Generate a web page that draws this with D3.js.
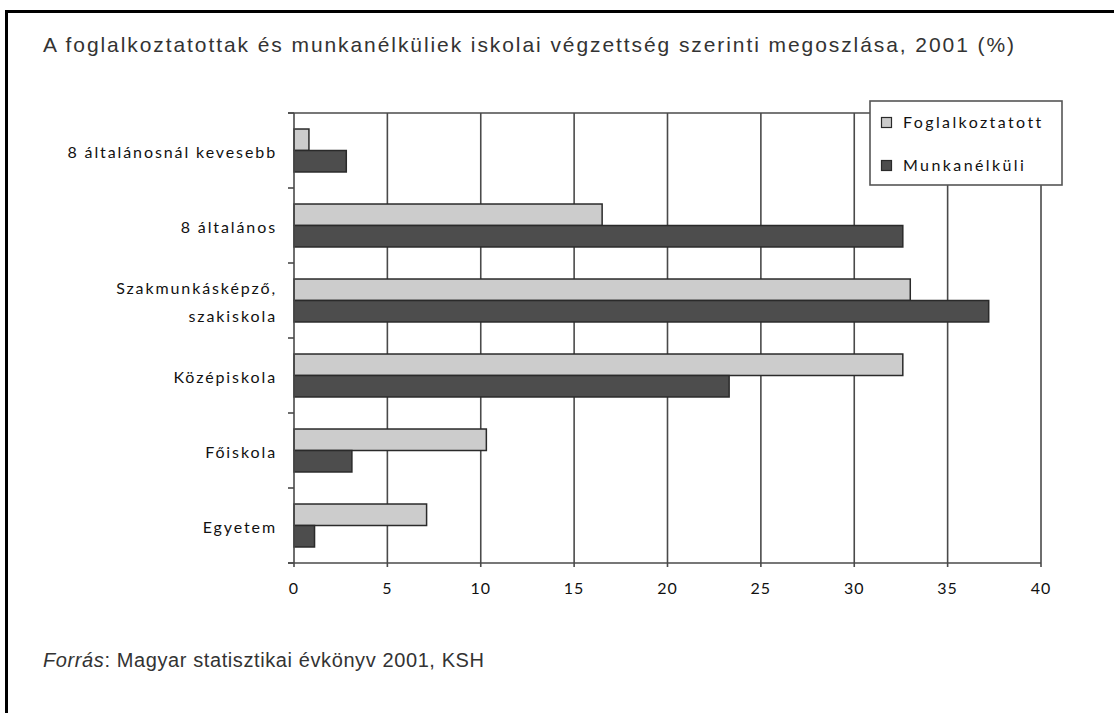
<!DOCTYPE html>
<html>
<head>
<meta charset="utf-8">
<script src="https://cdn.jsdelivr.net/npm/d3@7"></script>
<style>
  body { margin: 0; background: #fff; }
  svg { display: block; }
</style>
</head>
<body>
<script>
// chart data
var categories = ['8 általánosnál kevesebb', '8 általános', 'Szakmunkásképző, szakiskola', 'Középiskola', 'Főiskola', 'Egyetem'];
var categoryLines = [['8 általánosnál kevesebb'], ['8 általános'], ['Szakmunkásképző,', 'szakiskola'], ['Középiskola'], ['Főiskola'], ['Egyetem']];
var seriesNames = ['Foglalkoztatott', 'Munkanélküli'];
var employed = [0.8, 16.5, 33.0, 32.6, 10.3, 7.1];
var unemployed = [2.8, 32.6, 37.2, 23.3, 3.1, 1.1];
var xTicks = [0, 5, 10, 15, 20, 25, 30, 35, 40];

var titleText = 'A foglalkoztatottak és munkanélküliek iskolai végzettség szerinti megoszlása, 2001 (%)';

var width = 1114,
    height = 713;

var svg = d3.select('body')
  .append('svg')
  .attr('width', width)
  .attr('height', height);

// outer frame (clipped by the window on right and bottom)
svg.append('rect')
  .attr('x', 6.5).attr('y', 11.5)
  .attr('width', 1200).attr('height', 800)
  .attr('fill', 'none')
  .attr('stroke', '#000')
  .attr('stroke-width', 3);

// title
svg.append('text')
  .attr('x', 43).attr('y', 52)
  .attr('font-family', 'Liberation Sans, Arial, sans-serif')
  .attr('font-size', 21)
  .attr('fill', '#333')
  .attr('textLength', 971)
  .attr('lengthAdjust', 'spacing')
  .text(titleText);

// plot area
var plotLeft = 294, plotRight = 1041, plotTop = 113, plotBottom = 563;

var x = d3.scaleLinear().domain([0, 40]).range([plotLeft, plotRight]);

var y = d3.scaleBand()
  .domain(categories)
  .range([plotTop, plotBottom])
  .paddingInner(0.427)
  .paddingOuter(0.2135);

var ySub = d3.scaleBand()
  .domain(seriesNames)
  .range([0, y.bandwidth()]);

var g = svg.append('g');

// vertical gridlines (run a little past the axis as ticks)
g.selectAll('.grid')
  .data(xTicks.slice(1))
  .enter().append('line')
  .attr('x1', function(d) { return x(d); })
  .attr('x2', function(d) { return x(d); })
  .attr('y1', plotTop)
  .attr('y2', plotBottom + 4)
  .attr('stroke', '#4a4a4a')
  .attr('stroke-width', 1.6);

// top border of plot
g.append('line')
  .attr('x1', plotLeft - 6).attr('x2', plotRight)
  .attr('y1', plotTop).attr('y2', plotTop)
  .attr('stroke', '#4a4a4a').attr('stroke-width', 1.6);

// bars
var rows = categories.map(function(c, i) {
  return [
    { cat: c, series: seriesNames[0], value: employed[i] },
    { cat: c, series: seriesNames[1], value: unemployed[i] }
  ];
});
var fills = { 'Foglalkoztatott': '#cccccc', 'Munkanélküli': '#4d4d4d' };

g.selectAll('.row')
  .data(rows)
  .enter().append('g')
  .attr('transform', function(d) { return 'translate(0,' + y(d[0].cat) + ')'; })
  .selectAll('rect')
  .data(function(d) { return d; })
  .enter().append('rect')
  .attr('x', x(0))
  .attr('y', function(d) { return ySub(d.series); })
  .attr('width', function(d) { return x(d.value) - x(0); })
  .attr('height', ySub.bandwidth())
  .attr('fill', function(d) { return fills[d.series]; })
  .attr('stroke', '#2a2a2a')
  .attr('stroke-width', 1.5);

// y axis line and category separator ticks
g.append('line')
  .attr('x1', plotLeft).attr('x2', plotLeft)
  .attr('y1', plotTop).attr('y2', plotBottom + 4)
  .attr('stroke', '#4a4a4a').attr('stroke-width', 1.6);

var step = y.step();
var sepTicks = d3.range(categories.length + 1).map(function(i) { return plotTop + i * step; });
g.selectAll('.sep')
  .data(sepTicks)
  .enter().append('line')
  .attr('x1', plotLeft - 6).attr('x2', plotLeft)
  .attr('y1', function(d) { return d; })
  .attr('y2', function(d) { return d; })
  .attr('stroke', '#4a4a4a').attr('stroke-width', 1.6);

// x axis line
g.append('line')
  .attr('x1', plotLeft - 6).attr('x2', plotRight)
  .attr('y1', plotBottom).attr('y2', plotBottom)
  .attr('stroke', '#4a4a4a').attr('stroke-width', 1.6);

// x tick labels
g.selectAll('.xlab')
  .data(xTicks)
  .enter().append('text')
  .attr('x', function(d) { return x(d); })
  .attr('y', 594)
  .attr('text-anchor', 'middle')
  .attr('font-family', 'Lato, sans-serif')
  .attr('font-size', 16)
  .attr('letter-spacing', 1)
  .attr('fill', '#111')
  .text(function(d) { return d; });

// category labels
var labels = g.selectAll('.ylab')
  .data(categories)
  .enter().append('text')
  .attr('x', 277)
  .attr('y', function(d) { return y(d) + y.bandwidth() / 2 + 2; })
  .attr('text-anchor', 'end')
  .attr('font-family', 'Lato, sans-serif')
  .attr('font-size', 16)
  .attr('letter-spacing', 1.9)
  .attr('fill', '#111');

labels.each(function(d, i) {
  var lines = categoryLines[i];
  var sel = d3.select(this);
  var lh = 28;
  lines.forEach(function(line, j) {
    sel.append('tspan')
      .attr('x', 277)
      .attr('dy', j === 0 ? '0.35em' : lh)
      .text(line);
  });
  if (lines.length > 1) {
    sel.attr('y', y(d) + y.bandwidth() / 2 - lh * (lines.length - 1) / 2 + 2);
  }
});

// legend
var legend = svg.append('g').attr('transform', 'translate(870,101)');
legend.append('rect')
  .attr('x', 0).attr('y', 0)
  .attr('width', 192).attr('height', 84)
  .attr('fill', '#fff')
  .attr('stroke', '#555')
  .attr('stroke-width', 1.6);

seriesNames.forEach(function(s, i) {
  legend.append('rect')
    .attr('x', 11.5).attr('y', 16.5 + i * 43)
    .attr('width', 10).attr('height', 10)
    .attr('fill', fills[s])
    .attr('stroke', '#2a2a2a')
    .attr('stroke-width', 1.2);
  legend.append('text')
    .attr('x', 33).attr('y', 27 + i * 43)
    .attr('font-family', 'Lato, sans-serif')
    .attr('font-size', 16)
    .attr('letter-spacing', 2.4)
    .attr('fill', '#111')
    .text(s);
});

// source note
var note = svg.append('text')
  .attr('x', 43).attr('y', 667)
  .attr('font-family', 'Liberation Sans, Arial, sans-serif')
  .attr('font-size', 20)
  .attr('fill', '#333')
  .attr('textLength', 441)
  .attr('lengthAdjust', 'spacing');
note.append('tspan').attr('font-style', 'italic').text('Forrás');
note.append('tspan').text(': Magyar statisztikai évkönyv 2001, KSH');
</script>
</body>
</html>
